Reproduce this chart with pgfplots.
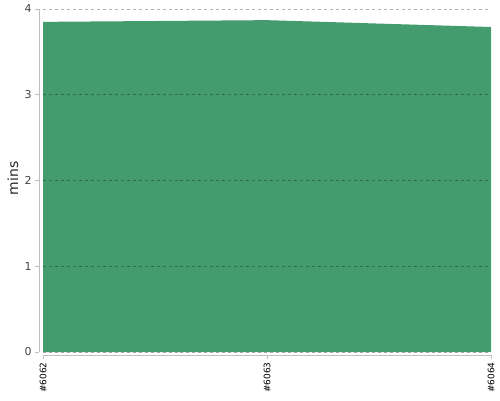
\documentclass[border=0pt]{standalone}
\usepackage{pgfplots}
\pgfplotsset{compat=1.18}
\usepackage{fontspec}
\setmainfont{DejaVu Sans}
\definecolor{areagreen}{RGB}{68,156,110}
\definecolor{axgray}{RGB}{190,190,190}
\definecolor{tickgray}{RGB}{68,68,68}
\begin{document}
\begin{tikzpicture}[x=1bp,y=1bp]
\useasboundingbox (0,0) rectangle (500,400);
\begin{axis}[
  at={(43bp,48bp)}, anchor=south west,
  scale only axis, width=448bp, height=343bp,
  xmin=0, xmax=2, ymin=0, ymax=4,
  xtick={0,1,2}, xticklabels={\#6062,\#6063,\#6064},
  ytick={0,1,2,3,4},
  axis x line=bottom, axis y line=left,
  axis x line shift=3bp, axis y line shift=4bp,
  axis line style={axgray, line width=1bp, -},
  x tick style={axgray, line width=0.8bp}, y tick style={axgray, line width=0.8bp},
  major tick length=4bp,
  xtick align=outside, ytick align=outside,
  x tick label style={rotate=90, anchor=east, font=\fontsize{9}{10}\selectfont, text=black},
  y tick label style={font=\fontsize{11}{12}\selectfont, text=tickgray},
  /pgf/number format/assume math mode=true,
  ymajorgrids, grid style={black, opacity=0.3, dashed, line width=0.8bp},
  axis on top,
  ylabel={mins},
  every axis y label/.style={at={(rel axis cs:0,0.5)}, rotate=90, anchor=center, yshift=30bp, xshift=2bp, font=\fontsize{14}{15}\selectfont, text=black!85},
  clip=false,
]
\addplot[fill=areagreen, draw=none] coordinates {(0,3.85) (1,3.87) (2,3.79)} \closedcycle;
\end{axis}
\end{tikzpicture}
\end{document}
